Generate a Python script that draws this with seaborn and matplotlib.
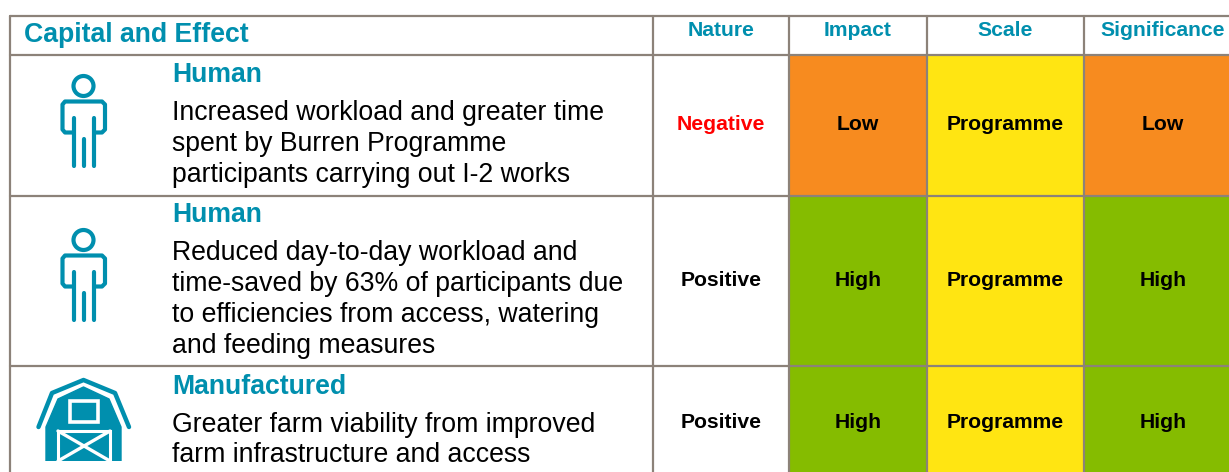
import numpy as np
import pandas as pd
from matplotlib import pyplot as plt
from matplotlib.colors import ListedColormap
from matplotlib.patches import Circle, Polygon, Rectangle
import seaborn as sns

header_main = "Capital and Effect"
header_cols = ["Nature", "Impact", "Scale", "Significance"]
capitals = ["Human", "Human", "Manufactured"]
effects = [
    ["Increased workload and greater time", "spent by Burren Programme", "participants carrying out I-2 works"],
    ["Reduced day-to-day workload and", "time-saved by 63% of participants due", "to efficiencies from access, watering", "and feeding measures"],
    ["Greater farm viability from improved", "farm infrastructure and access"],
]
nature = ["Negative", "Positive", "Positive"]
impact = ["Low", "High", "High"]
scale = ["Programme", "Programme", "Programme"]
significance = ["Low", "High", "High"]

TEAL = "#008FAE"
LINE = "#8C8279"
rating_colors = {"Low": "#F78B1F", "High": "#85BC00", "Programme": "#FFE512"}
rating_order = list(rating_colors)

# layout in reference pixels
W, H = 1229, 472
col_x = [653, 789, 927, 1084, 1242]
row_y = [55, 196, 366, 476]
title_y = [74.5, 214.5, 386.5]
effect_y = [[113, 144, 175], [253, 284, 315, 346], [425, 455]]
cell_text_y = [124.5, 280.5, 422.5]

sns.set_theme(style="white")
plt.rcParams["font.family"] = ["Liberation Sans", "DejaVu Sans"]

fig = plt.figure(figsize=(W / 100, H / 100), dpi=100)
ax = fig.add_axes([0, 0, 1, 1])
ax.set_xlim(0, W)
ax.set_ylim(H, 0)
ax.axis("off")
ax.set_zorder(5)


def rating_cell(label, col, row):
    x0, x1 = col_x[col], col_x[col + 1]
    y0, y1 = row_y[row], row_y[row + 1]
    cell = fig.add_axes([x0 / W, 1 - y1 / H, (x1 - x0) / W, (y1 - y0) / H])
    sns.heatmap(
        pd.DataFrame([[rating_order.index(label)]]),
        ax=cell,
        cmap=ListedColormap(list(rating_colors.values())),
        vmin=-0.5,
        vmax=2.5,
        annot=[[label]],
        fmt="",
        annot_kws={"color": "black", "fontsize": 15.2, "fontweight": "bold"},
        cbar=False,
        xticklabels=False,
        yticklabels=False,
    )
    cell.texts[0].set_y((cell_text_y[row] - y0) / (y1 - y0))


def person(cy):
    kw = dict(color=TEAL, lw=3, solid_capstyle="round", solid_joinstyle="round", zorder=3)
    ax.add_patch(Circle((83.5, cy), 10, fill=False, ec=TEAL, lw=3))
    top = cy + 15.5
    ax.plot([73, 65, 62.5, 62.5, 65, 102, 105, 105, 102, 94],
            [top + 31, top + 31, top + 28, top + 3, top, top, top + 3, top + 28, top + 31, top + 31], **kw)
    for x, y_start in [(73.5, top + 16), (94, top + 16), (83.5, top + 37)]:
        ax.plot([x, x], [y_start, top + 64], **kw)


def barn():
    ax.plot([38.5, 52, 83.5, 115, 129], [427, 393, 380, 393, 427], color=TEAL, lw=3.2,
            solid_capstyle="round", solid_joinstyle="round")
    ax.add_patch(Polygon([(46, 461), (46, 427), (58, 399), (83.5, 387), (109, 399), (121, 427), (121, 461)],
                         fc=TEAL, ec=TEAL, lw=1, joinstyle="round"))
    ax.add_patch(Rectangle((70, 401), 28, 20.5, fc=TEAL, ec="white", lw=2.6))
    ax.add_patch(Rectangle((58, 431), 52, 32, fc=TEAL, ec="white", lw=2.2))
    ax.plot([58, 110], [431, 461], color="white", lw=2.4)
    ax.plot([58, 110], [461, 431], color="white", lw=2.4)
    ax.add_patch(Rectangle((44, 461), 80, 8, fc="white", ec="none", zorder=4))


# header
ax.text(24, 34.5, header_main, color=TEAL, fontsize=19.2, fontweight="bold", va="center", ha="left")
for i, name in enumerate(header_cols):
    xc = 1163 if name == "Significance" else (col_x[i] + col_x[i + 1]) / 2
    ax.text(xc, 30.5, name, color=TEAL, fontsize=15.2, fontweight="bold", va="center", ha="center")

# rows
for r in range(3):
    ax.text(172, title_y[r], capitals[r], color=TEAL, fontsize=19.2, fontweight="bold", va="center")
    for line, y in zip(effects[r], effect_y[r]):
        ax.text(172, y, line, color="black", fontsize=19.2, va="center")
    ax.text(721, cell_text_y[r], nature[r],
            color="#FF0000" if nature[r] == "Negative" else "black",
            fontsize=15.2, fontweight="bold", va="center", ha="center")
    rating_cell(impact[r], 1, r)
    rating_cell(scale[r], 2, r)
    rating_cell(significance[r], 3, r)

person(86)
person(240)
barn()

# grid lines on top of the coloured cells
for y in [16, 55, 196, 366]:
    ax.plot([10, W], [y, y], color=LINE, lw=1.6, zorder=10)
for x in [10, 653, 789, 927, 1084]:
    ax.plot([x, x], [16, H], color=LINE, lw=1.6, zorder=10)

fig.savefig("out.png", dpi=100)
